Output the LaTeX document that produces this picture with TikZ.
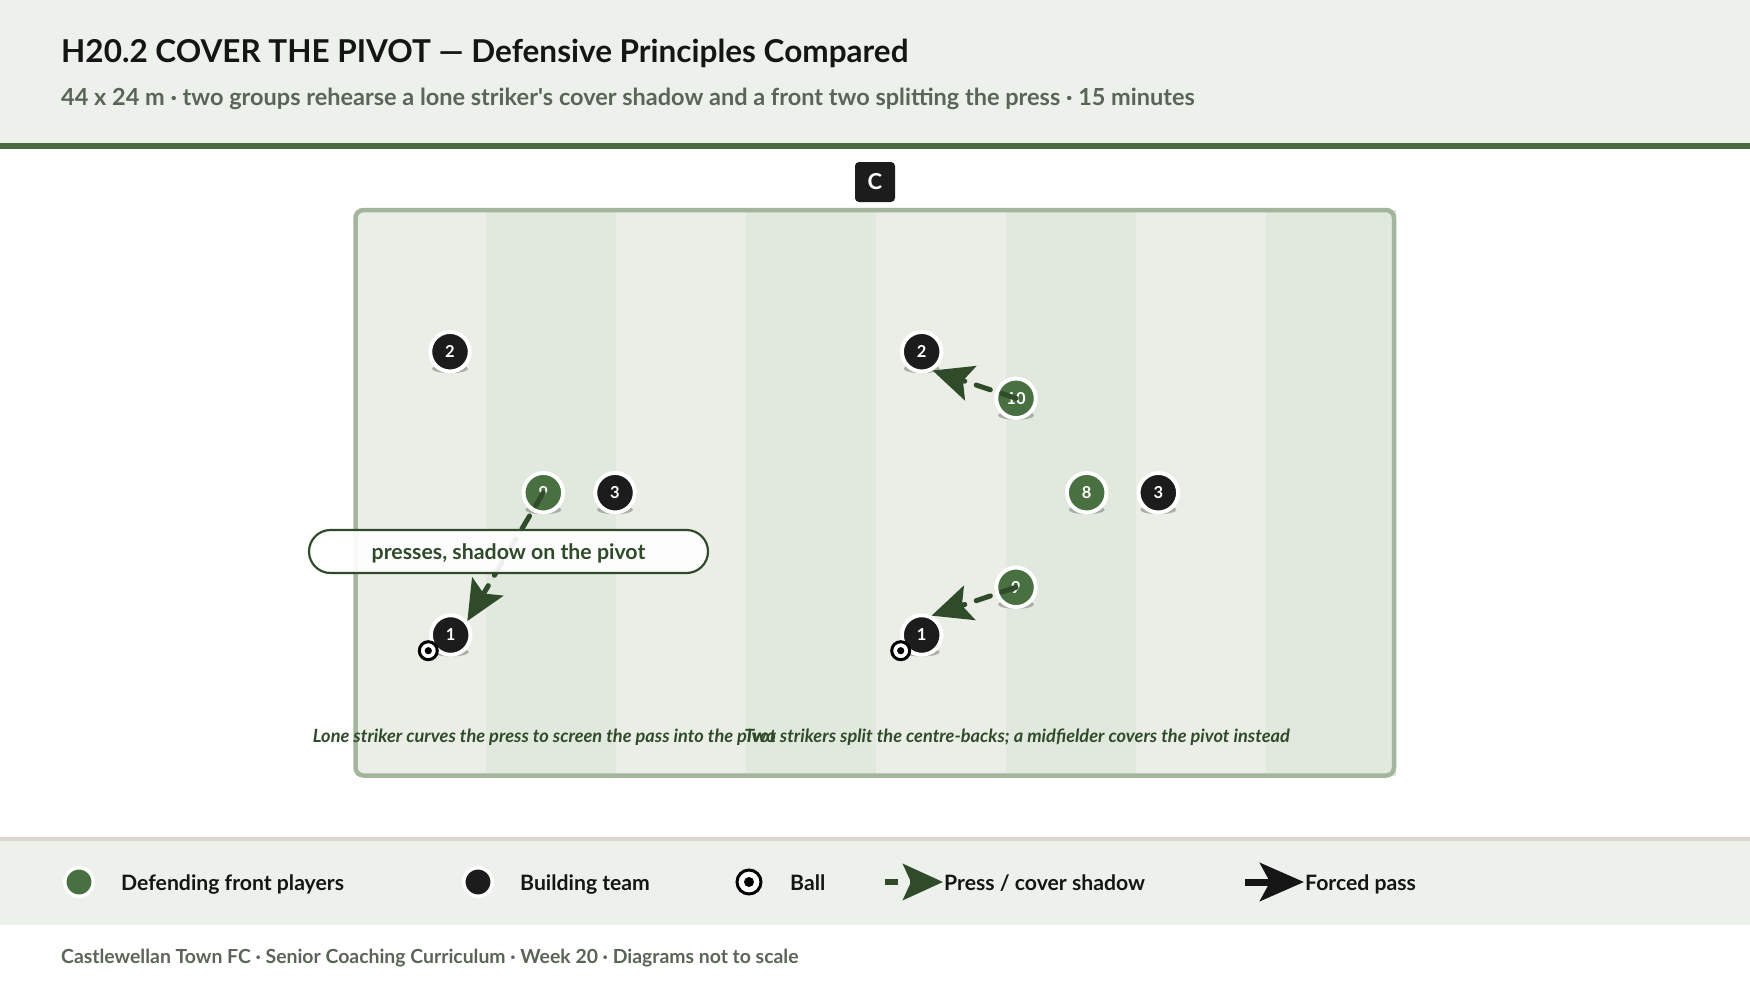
\documentclass[tikz,border=0pt]{standalone}
\usepackage{fontspec}
\setmainfont{Lato}
\usetikzlibrary{arrows.meta,calc}
\definecolor{headbg}{RGB}{237,241,236}
\definecolor{headline}{RGB}{74,107,64}
\definecolor{subgray}{RGB}{90,101,87}
\definecolor{stripeA}{RGB}{234,238,231}
\definecolor{stripeB}{RGB}{225,232,221}
\definecolor{pitchline}{RGB}{163,181,156}
\definecolor{defgreen}{RGB}{72,112,64}
\definecolor{darkgreen}{RGB}{47,75,42}
\definecolor{nearblack}{RGB}{28,28,28}
\definecolor{legline}{RGB}{217,214,205}
\definecolor{shadowgray}{RGB}{160,165,158}
\definecolor{titleblack}{RGB}{21,21,21}
\tikzset{
  player/.style={circle, minimum size=39.5pt, inner sep=0pt, line width=3.9pt, draw=white, text=white, font=\fontsize{16.5}{16.5}\selectfont\bfseries},
  defp/.style={player, fill=defgreen},
  bldp/.style={player, fill=nearblack},
  legdef/.style={circle, minimum size=28.5pt, inner sep=0pt, line width=3.5pt, draw=white, fill=defgreen},
  legbld/.style={circle, minimum size=28.5pt, inner sep=0pt, line width=3.5pt, draw=white, fill=nearblack},
  shadowell/.style={fill=shadowgray, fill opacity=0.85},
  ballnode/.style={circle, minimum size=18pt, inner sep=0pt, line width=3pt, draw=black, fill=white},
  legball/.style={circle, minimum size=24pt, inner sep=0pt, line width=3pt, draw=black, fill=white},
  pressarrow/.style={draw=darkgreen, line width=5pt, line cap=round, dash pattern=on 15pt off 12pt, -{Stealth[length=40pt, width=36pt, inset=8pt, fill=darkgreen]}},
  legpress/.style={draw=darkgreen, line width=6pt, dash pattern=on 13pt off 12pt, -{Stealth[length=40pt, width=36pt, inset=8pt, fill=darkgreen]}},
  legforced/.style={draw=titleblack, line width=7pt, -{Stealth[length=44pt, width=38pt, inset=10pt, fill=titleblack]}},
  legtext/.style={anchor=base west, inner sep=0pt, text=titleblack, font=\fontsize{21.2}{21.2}\selectfont\bfseries},
  captext/.style={anchor=base, inner sep=0pt, text=darkgreen, font=\fontsize{18.2}{18.2}\selectfont\bfseries\itshape},
  pill/.style={draw=darkgreen, line width=2.2pt, fill=white, fill opacity=0.92, text opacity=1, rounded corners=21.5pt, minimum width=399pt, minimum height=43pt, inner sep=0pt, text height=15.8pt, text depth=0.3pt, text=darkgreen, font=\fontsize{21.3}{21.3}\selectfont\bfseries},
}
\begin{document}
\begin{tikzpicture}[x=1pt,y=-1pt]
\useasboundingbox (0,0) rectangle (1750,982);
\fill[white] (0,0) rectangle (1750,982);
% header
\fill[headbg] (0,0) rectangle (1750,143);
\fill[headline] (0,143) rectangle (1750,148.5);
\node[anchor=base west, inner sep=0pt, text=titleblack, font=\fontsize{31.5}{31.5}\selectfont\bfseries] (title) at (61,62.2) {H20.2 COVER THE PIVOT — Defensive Principles Compared};
\node[anchor=base west, inner sep=0pt, text=subgray, font=\fontsize{23.5}{23.5}\selectfont\bfseries] (subtitle) at (61,105.5) {44 x 24 m · two groups rehearse a lone striker\textquotesingle s cover shadow and a front two splitting the press · 15 minutes};
% coach box
\node[fill=nearblack, rounded corners=4pt, minimum size=40pt, inner sep=0pt, text=white, font=\fontsize{22}{22}\selectfont\bfseries] (coach) at (875,182) {C};
% pitch stripes
\foreach \i in {0,...,7} {
  \pgfmathsetmacro{\xa}{355.5+130*\i}
  \pgfmathsetmacro{\xb}{355.5+130*(\i+1)}
  \ifodd\i
    \fill[stripeB] (\xa,210) rectangle (\xb,775.5);
  \else
    \fill[stripeA] (\xa,210) rectangle (\xb,775.5);
  \fi
}
\draw[pitchline, line width=4.5pt, rounded corners=8pt] (355.5,210) rectangle (1394,775.5);
% shadows
\foreach \p in {(450,351.7),(543.3,492.7),(615,492.7),(450.7,635),(921.7,351.7),(1016,398.3),(1086.7,492.7),(1158.3,492.7),(1016,587.3),(921.7,635)} {
  \fill[shadowell] \p ++(0,17) ellipse [x radius=18, y radius=4.5];
}
% left group players
\node[bldp] (lb2) at (450,351.7) {2};
\node[defp] (lg9) at (543.3,492.7) {9};
\node[bldp] (lb3) at (615,492.7) {3};
\node[bldp] (lb1) at (450.7,635) {1};
% right group players
\node[bldp] (rb2) at (921.7,351.7) {2};
\node[defp] (rg10) at (1016,398.3) {10};
\node[defp] (rg8) at (1086.7,492.7) {8};
\node[bldp] (rb3) at (1158.3,492.7) {3};
\node[defp] (rg9) at (1016,587.3) {9};
\node[bldp] (rb1) at (921.7,635) {1};
% press arrows
\draw[pressarrow] (lg9.center) -- (lb1.40);
\draw[pressarrow] (rg10.center) -- (rb2.-60);
\draw[pressarrow] (rg9.center) -- (rb1.63);
% label
\node[pill] (lbl) at (508.5,551.5) {presses, shadow on the pivot};
% balls
\node[ballnode] (lball) at (428.3,650.7) {};
\fill (lball.center) circle (3.6);
\node[ballnode] (rball) at (900.7,650.7) {};
\fill (rball.center) circle (3.6);
% captions
\node[captext] (capl) at (544.5,742.7) {Lone striker curves the press to screen the pass into the pivot};
\node[captext] (capr) at (1017,742.7) {Two strikers split the centre-backs; a midfielder covers the pivot instead};
% legend band
\fill[headbg] (0,840) rectangle (1750,925);
\fill[legline] (0,837) rectangle (1750,841);
\node[legdef] (l1) at (79,882) {};
\node[legtext] (t1) at (121,890) {Defending front players};
\node[legbld] (l2) at (478,882) {};
\node[legtext] (t2) at (520,890) {Building team};
\node[legball] (l3) at (749,882) {};
\fill (l3.center) circle (5);
\node[legtext] (t3) at (790,890) {Ball};
\coordinate (pa1) at (885,882);
\coordinate (pa2) at (943,882);
\draw[legpress] (pa1) -- (pa2);
\node[legtext] (t4) at (944,890) {Press / cover shadow};
\coordinate (fa1) at (1245,882);
\coordinate (fa2) at (1304,882);
\draw[legforced] (fa1) -- (fa2);
\node[legtext] (t5) at (1305,890) {Forced pass};
% footer
\node[anchor=base west, inner sep=0pt, text=subgray, font=\fontsize{19.4}{19.4}\selectfont\bfseries] (footer) at (61,963.7) {Castlewellan Town FC · Senior Coaching Curriculum · Week 20 · Diagrams not to scale};
\end{tikzpicture}
\end{document}
